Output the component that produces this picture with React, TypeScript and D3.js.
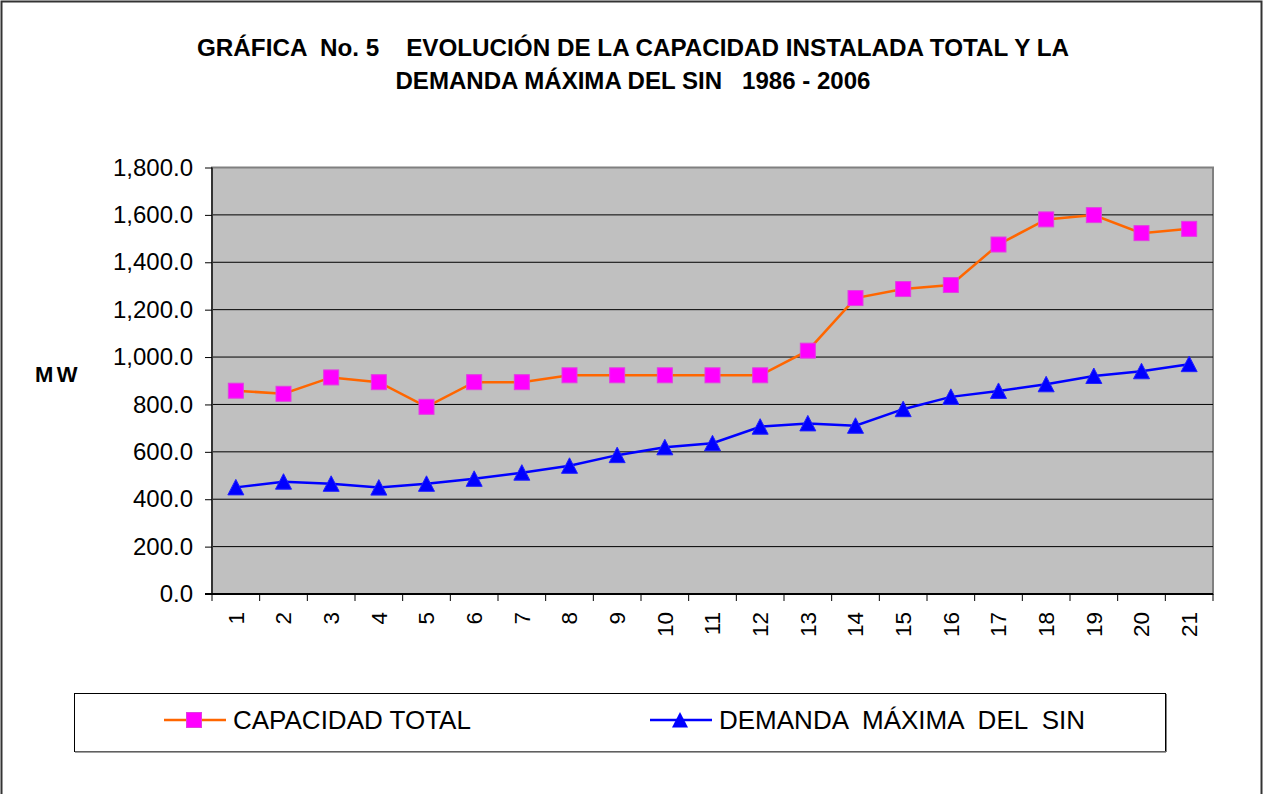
import React, { useEffect, useRef } from "react";
import * as d3 from "d3";

const categories = ["1", "2", "3", "4", "5", "6", "7", "8", "9", "10", "11", "12", "13", "14", "15", "16", "17", "18", "19", "20", "21"];
const capacidadTotal = [858, 845, 914, 894, 790, 894, 894, 923, 923, 923, 923, 923, 1027, 1249, 1287, 1304, 1475, 1581, 1599, 1523, 1541];
const demandaMaxima = [450, 474, 465, 449, 465, 486, 512, 541, 586, 619, 636, 706, 720, 710, 780, 832, 857, 885, 920, 940, 970];
const yTicks = [0, 200, 400, 600, 800, 1000, 1200, 1400, 1600, 1800];
const titleLines = [
    "GRÁFICA  No. 5    EVOLUCIÓN DE LA CAPACIDAD INSTALADA TOTAL Y LA",
    "DEMANDA MÁXIMA DEL SIN   1986 - 2006",
];
const seriesNames = ["CAPACIDAD TOTAL", "DEMANDA  MÁXIMA  DEL  SIN"];

const FONT = "'Liberation Sans', Arial, sans-serif";
const W = 1266, H = 794;
const plot = { left: 212, right: 1213, top: 167.5, bottom: 594 };

const triangle = "M0,-8L8,7.5L-8,7.5Z";

function App() {
    const gx = useRef<SVGGElement>(null);
    const gy = useRef<SVGGElement>(null);

    const x = d3.scaleBand<string>()
        .domain(categories)
        .range([plot.left, plot.right])
        .padding(0);
    const cx = (c: string) => (x(c) as number) + x.bandwidth() / 2;

    const y = d3.scaleLinear()
        .domain([0, 1800])
        .range([plot.bottom, plot.top]);

    const line = d3.line<number>()
        .x((_, i) => cx(categories[i]))
        .y(d => y(d));

    useEffect(() => {
        const ax = d3.select(gx.current as SVGGElement);
        ax.call(d3.axisBottom(x).tickSize(0).tickSizeOuter(0) as any);
        ax.select(".domain").remove();
        ax.selectAll(".tick line").remove();
        ax.selectAll(".tick text")
            .attr("transform", "rotate(-90)")
            .attr("x", -18)
            .attr("y", 0)
            .attr("dy", "0.35em")
            .attr("text-anchor", "end")
            .attr("font-family", FONT)
            .attr("font-size", 22.5)
            .attr("fill", "#000");

        const ay = d3.select(gy.current as SVGGElement);
        ay.call(d3.axisLeft(y).tickValues(yTicks).tickFormat(d3.format(",.1f") as any).tickSize(7).tickSizeOuter(0) as any);
        ay.select(".domain").remove();
        ay.selectAll(".tick line").attr("stroke", "#000").attr("stroke-width", 1);
        ay.selectAll(".tick text")
            .attr("x", -19)
            .attr("font-family", FONT)
            .attr("font-size", 24)
            .attr("fill", "#000");
    }, []);

    const bounds = x.domain().map(c => x(c) as number).concat([plot.right]);

    return (
        <svg width={W} height={H} viewBox={`0 0 ${W} ${H}`}
             style={{ position: "absolute", left: 0, top: 0, display: "block", background: "#fff" }}>
            <rect x={1.5} y={1.5} width={1260} height={H + 10} fill="#fff" stroke="#333" strokeWidth={2} />

            {titleLines.map((t, i) => (
                <text key={i} x={633} y={56 + i * 33} textAnchor="middle"
                      fontFamily={FONT} fontWeight="bold" fontSize={24}
                      style={{ whiteSpace: "pre" }}
                      textLength={i === 0 ? 872 : 475} lengthAdjust="spacingAndGlyphs">{t}</text>
            ))}

            <text x={35} y={382} fontFamily={FONT} fontWeight="bold" fontSize={22} letterSpacing={3.5}>MW</text>

            <rect x={plot.left} y={plot.top} width={plot.right - plot.left} height={plot.bottom - plot.top}
                  fill="#C0C0C0" stroke="#808080" strokeWidth={2} />

            {yTicks.filter(v => v > 0 && v < 1800).map(v => (
                <line key={v} x1={plot.left} x2={plot.right} y1={y(v)} y2={y(v)} stroke="#000" strokeWidth={1} />
            ))}

            <line x1={plot.left} x2={plot.left} y1={plot.top} y2={plot.bottom} stroke="#333" strokeWidth={2} />
            <line x1={plot.left - 7} x2={plot.right} y1={plot.bottom} y2={plot.bottom} stroke="#000" strokeWidth={2} />
            {bounds.map((b, i) => (
                <line key={i} x1={b} x2={b} y1={plot.bottom} y2={plot.bottom + 7} stroke="#000" strokeWidth={1} />
            ))}

            <g ref={gy} transform={`translate(${plot.left},0)`} />
            <g ref={gx} transform={`translate(0,${plot.bottom})`} />

            <path d={line(capacidadTotal) as string} fill="none" stroke="#FF6600" strokeWidth={2.5} />
            <path d={line(demandaMaxima) as string} fill="none" stroke="#0000FF" strokeWidth={2.5} />

            {capacidadTotal.map((v, i) => (
                <rect key={i} x={cx(categories[i]) - 7.5} y={y(v) - 7.5} width={15} height={15}
                      fill="#FF00FF" stroke="#E040E0" strokeWidth={1} />
            ))}
            {demandaMaxima.map((v, i) => (
                <path key={i} d={triangle} transform={`translate(${cx(categories[i])},${y(v)})`}
                      fill="#0000FF" stroke="#2020FF" strokeWidth={1} />
            ))}

            <rect x={74.5} y={693.5} width={1091} height={58} fill="#fff" stroke="#000" strokeWidth={1} />
            <line x1={75} x2={1166} y1={752} y2={752} stroke="#808080" strokeWidth={1.5} />
            <line x1={1166.5} x2={1166.5} y1={694} y2={752} stroke="#808080" strokeWidth={1} />

            <line x1={164} x2={226} y1={720} y2={720} stroke="#FF6600" strokeWidth={2.5} />
            <rect x={186.5} y={712.5} width={15} height={15} fill="#FF00FF" stroke="#E040E0" strokeWidth={1} />
            <text x={233} y={729} fontFamily={FONT} fontSize={26}>{seriesNames[0]}</text>

            <line x1={650} x2={712} y1={720} y2={720} stroke="#0000FF" strokeWidth={2.5} />
            <path d={triangle} transform="translate(680,720)" fill="#0000FF" />
            <text x={719} y={729} fontFamily={FONT} fontSize={26} style={{ whiteSpace: "pre" }}>{seriesNames[1]}</text>
        </svg>
    );
}

export default App;
